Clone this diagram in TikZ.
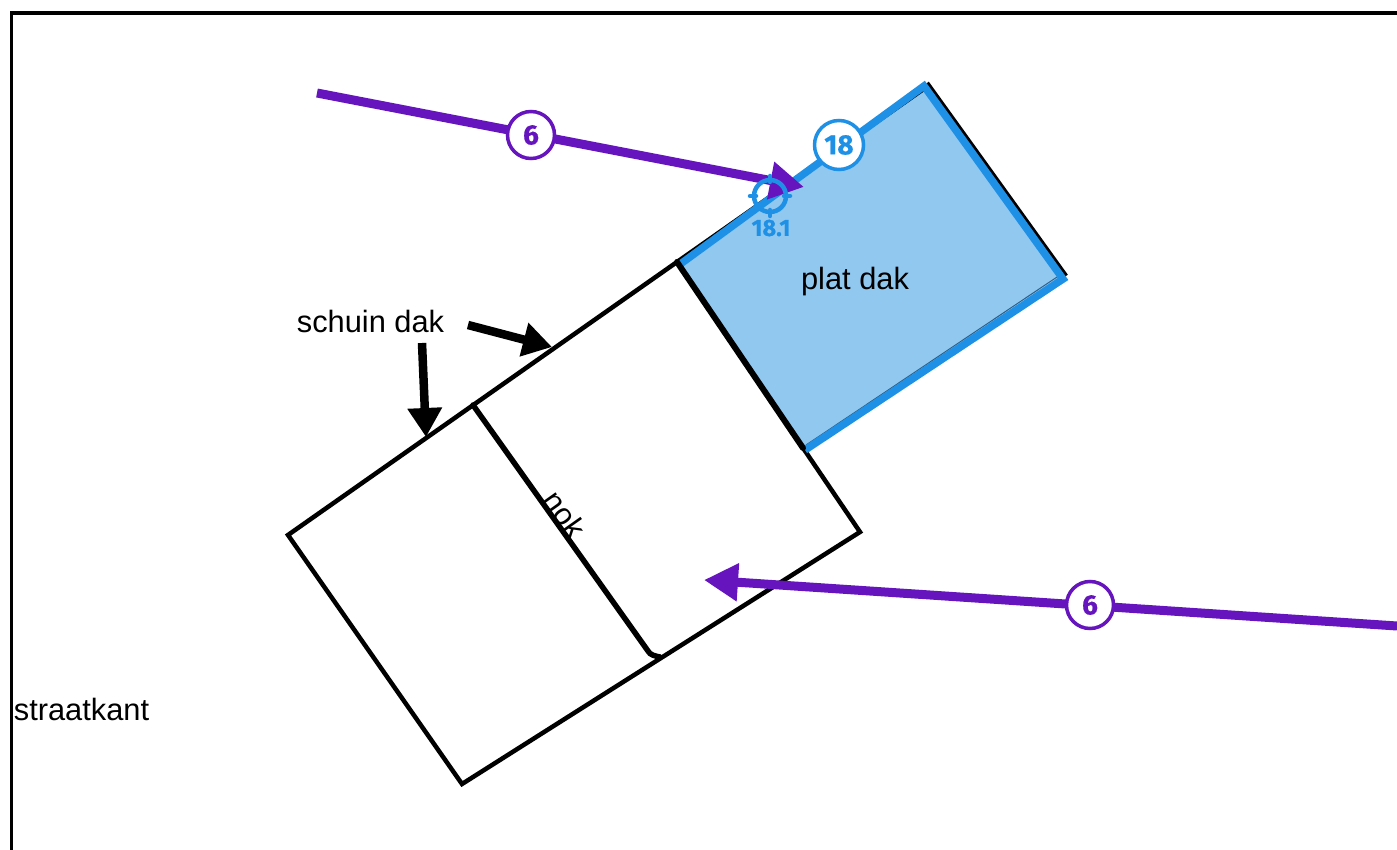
\documentclass[tikz,border=0pt]{standalone}
\usepackage{fontspec}
\setmainfont{Liberation Sans}
\newfontfamily\badgefont{Fira Sans}[UprightFont=* Bold,FakeBold=0.5]
\usetikzlibrary{arrows.meta}
\definecolor{dakblauw}{HTML}{1E90E6}
\definecolor{dakvul}{HTML}{90C8F0}
\definecolor{dakrand}{HTML}{2F5F85}
\definecolor{paars}{HTML}{6514BE}
\tikzset{
  x=1pt,y=-1pt,
  outline/.style={draw=black,line width=4.5pt,line join=miter},
  blueedge/.style={draw=dakblauw,line width=7.5pt,line join=miter},
  sight/.style={draw=paars,line width=9pt,-{Triangle[length=34pt,width=36pt]}},
  pointer/.style={draw=black,line width=8.5pt,-{Triangle[length=29pt,width=33pt]}},
  label/.style={font=\fontsize{30.8}{34}\selectfont,inner sep=0pt,text=black},
  badge/.style={circle,draw=#1,fill=white,line width=3.5pt,minimum size=47pt,inner sep=0pt,text=#1,font=\badgefont\fontsize{28}{30}\selectfont},
  tick/.style={draw=dakblauw,line width=4.5pt,line cap=round},
}
\begin{document}
\begin{tikzpicture}
\useasboundingbox (0,0) rectangle (1397,850);
\fill[white] (0,0) rectangle (1397,850);
% frame
\coordinate (fa) at (11.5,850);
\coordinate (fb) at (11.5,13);
\coordinate (fc) at (1397,13);
\draw[black,line width=3.5pt] (fa) -- (fb) -- (fc);
% corners
\coordinate (a) at (288,535);
\coordinate (b) at (677,262);
\coordinate (c) at (925,88);
\coordinate (c2) at (927,83);
\coordinate (d) at (1066,276);
\coordinate (d2) at (1060,275);
\coordinate (e) at (803,448);
\coordinate (e2) at (806,445);
\coordinate (f) at (860,532);
\coordinate (g) at (462,784);
\coordinate (n1) at (473,405);
\coordinate (n2) at (648,651);
\coordinate (n3) at (660,657);
% main roof
\draw[outline] (b) -- (f) -- (g) -- (a) -- cycle;
\draw[black,line width=5.5pt,line cap=round] (n1) -- (n2) .. controls (650,655) and (655,656) .. (n3);
% flat roof
\fill[dakvul] (b) -- (c2) -- (d) -- (e) -- cycle;
\draw[outline] (b) -- (c);
\draw[outline] (c2) -- (d);
\coordinate (bb) at (679,265);
\coordinate (cc) at (924,86);
\coordinate (dd) at (1063,279);
\coordinate (ee) at (805,450);
\draw[dakrand,line width=1pt] (d2) -- (e2);
\draw[blueedge] (bb) -- (cc) -- (dd) -- (ee);
\draw[black,line width=6pt,line cap=round] (b) -- (e);
% sight lines
\coordinate (s1) at (317,93);
\coordinate (s2) at (804,187);
\coordinate (t1) at (1397,626);
\coordinate (t2) at (704,580);
\draw[sight] (s1) -- (s2);
\draw[sight] (t1) -- (t2);
% pointers
\coordinate (p1) at (468,325);
\coordinate (p2) at (552,347);
\coordinate (q1) at (422,343);
\coordinate (q2) at (426,437);
\draw[pointer] (p1) -- (p2);
\draw[pointer] (q1) -- (q2);
% badges
\node[badge=paars] (six1) at (531,135) {6};
\node[badge=paars] (six2) at (1090,605) {6};
\node[badge=dakblauw,minimum size=49pt] (eighteen) at (839,145) {18};
% target marker
\node[circle,draw=dakblauw,line width=4.5pt,minimum size=32pt,inner sep=0pt,outer sep=0pt] (target) at (770,196) {};
\draw[tick] (target.north) ++(0,-4) -- ++(0,6);
\draw[tick] (target.south) ++(0,4) -- ++(0,-6);
\draw[tick] (target.west) ++(-4,0) -- ++(6,0);
\draw[tick] (target.east) ++(4,0) -- ++(-6,0);
\node[inner sep=0pt,text=dakblauw,font=\badgefont\fontsize{23.5}{26}\selectfont] (targetlabel) at (771,228) {18.1};
% labels
\node[label] (schuin) at (370.5,321) {schuin dak};
\node[label] (plat) at (855,282) {plat dak};
\node[label] (straat) at (81.5,709) {straatkant};
\node[label,rotate=-54.7] (nok) at (565,514) {nok};
\end{tikzpicture}
\end{document}
